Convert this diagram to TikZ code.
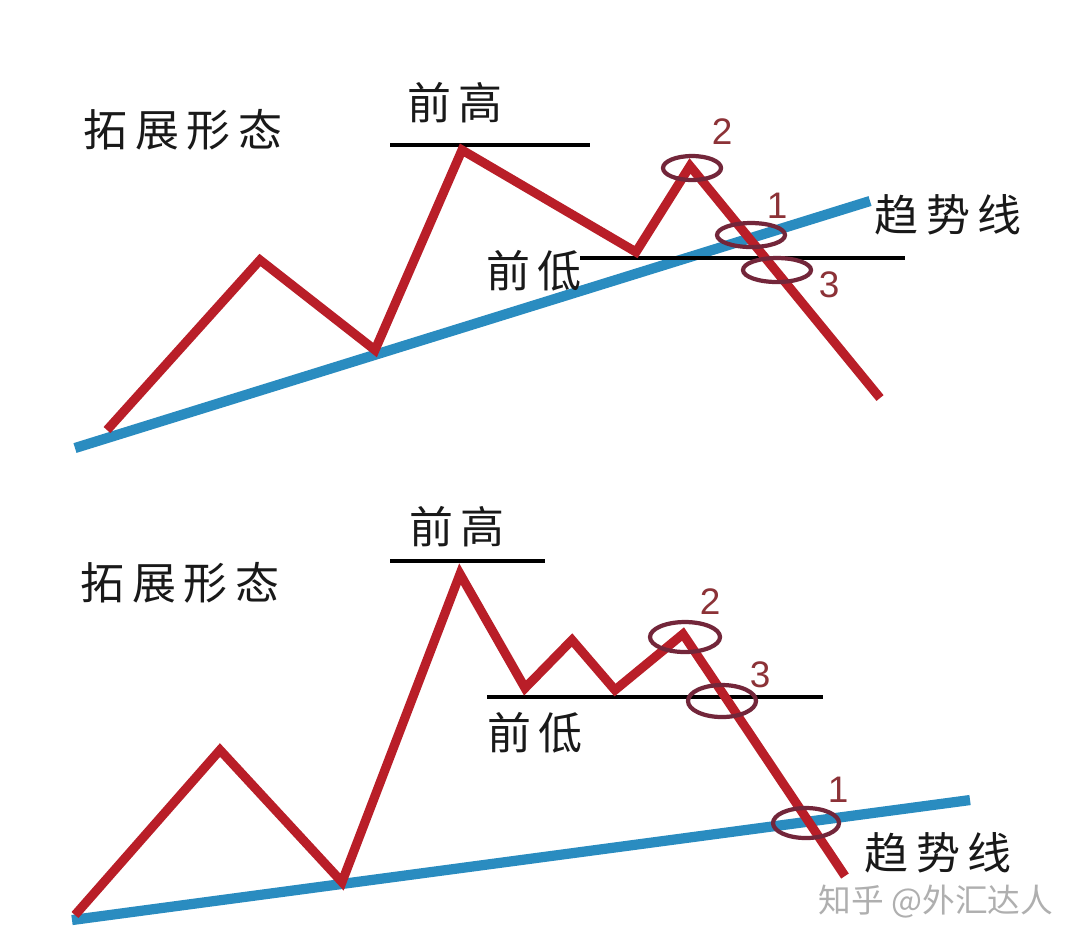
\documentclass[tikz,border=0pt]{standalone}
\usepackage{fontspec}
\setmainfont{Liberation Sans}
\newfontfamily\cjk[LetterSpace=18]{Noto Sans CJK SC}
\newfontfamily\cjkwm{Noto Sans CJK SC}
\definecolor{redl}{RGB}{185,30,40}
\definecolor{bluel}{RGB}{42,140,192}
\definecolor{ringc}{RGB}{115,38,58}
\definecolor{numc}{RGB}{140,50,55}
\definecolor{wmc}{RGB}{175,175,175}
\tikzset{
  trend/.style={line width=2.9pt, bluel, line cap=butt},
  price/.style={line width=2.6pt, redl, line join=miter, miter limit=20},
  level/.style={line width=1.1pt, black},
  ring/.style={line width=1.2pt, ringc},
  lbl/.style={font=\cjk\fontsize{12.5}{14}\selectfont, text=black!90, inner sep=0pt},
  num/.style={font=\fontsize{10.5}{12}\selectfont, text=numc, inner sep=0pt},
}
\begin{document}
\begin{tikzpicture}[x=0.01cm,y=-0.01cm]
\useasboundingbox (0,0) rectangle (1080,947);
\fill[white] (0,0) rectangle (1080,947);

% ---------- top panel ----------
\coordinate (tA) at (75,448);
\coordinate (tB) at (870,201);
\draw[trend] (tA) -- (tB);
\draw[level] (390,145) coordinate (hA) -- (590,145) coordinate (hB);
\draw[level] (580,258) coordinate (lA) -- (905,258) coordinate (lB);
\draw[price] (107,430) coordinate (p1) -- (260,260) coordinate (p2) -- (375,350) coordinate (p3)
  -- (462,150) coordinate (p4) -- (636,252) coordinate (p5) -- (690,166) coordinate (p6)
  -- (880,398) coordinate (p7);
\draw[ring] (692,168) ellipse (29 and 12);
\draw[ring] (751,235) ellipse (34 and 12);
\draw[ring] (777,270) ellipse (34 and 12);
\node[num] (n2a) at (722,132) {2};
\node[num] (n1a) at (777,206) {1};
\node[num] (n3a) at (829,285) {3};
\node[lbl] (ta) at (183,130) {拓展形态};
\node[lbl] (ha) at (455,103) {前高};
\node[lbl] (la) at (534,271) {前低};
\node[lbl] (qa) at (948,215) {趋势线};

% ---------- bottom panel ----------
\coordinate (bA) at (72,920);
\coordinate (bB) at (970,800);
\draw[trend] (bA) -- (bB);
\draw[level] (390,561) coordinate (hC) -- (545,561) coordinate (hD);
\draw[level] (487,697) coordinate (lC) -- (823,697) coordinate (lD);
\draw[price] (75,915) coordinate (q1) -- (220,750) coordinate (q2) -- (342,882) coordinate (q3)
  -- (460,574) coordinate (q4) -- (525,688) coordinate (q5) -- (572,640) coordinate (q6)
  -- (615,690) coordinate (q7) -- (683,634) coordinate (q8) -- (845,876) coordinate (q9);
\draw[ring] (685,637) ellipse (35 and 15);
\draw[ring] (722,701) ellipse (34 and 16);
\draw[ring] (806,823) ellipse (33 and 15);
\node[num] (n2b) at (710,602) {2};
\node[num] (n3b) at (760,675) {3};
\node[num] (n1b) at (838,790) {1};
\node[lbl] (tb) at (180,583) {拓展形态};
\node[lbl] (hb) at (457,527) {前高};
\node[lbl] (lb) at (535,733) {前低};
\node[lbl] (qb) at (938,853) {趋势线};
\node[font=\cjkwm\fontsize{9.3}{11}\selectfont, text=wmc, inner sep=0pt] (wm) at (936,902) {知乎 @外汇达人};
\end{tikzpicture}
\end{document}
